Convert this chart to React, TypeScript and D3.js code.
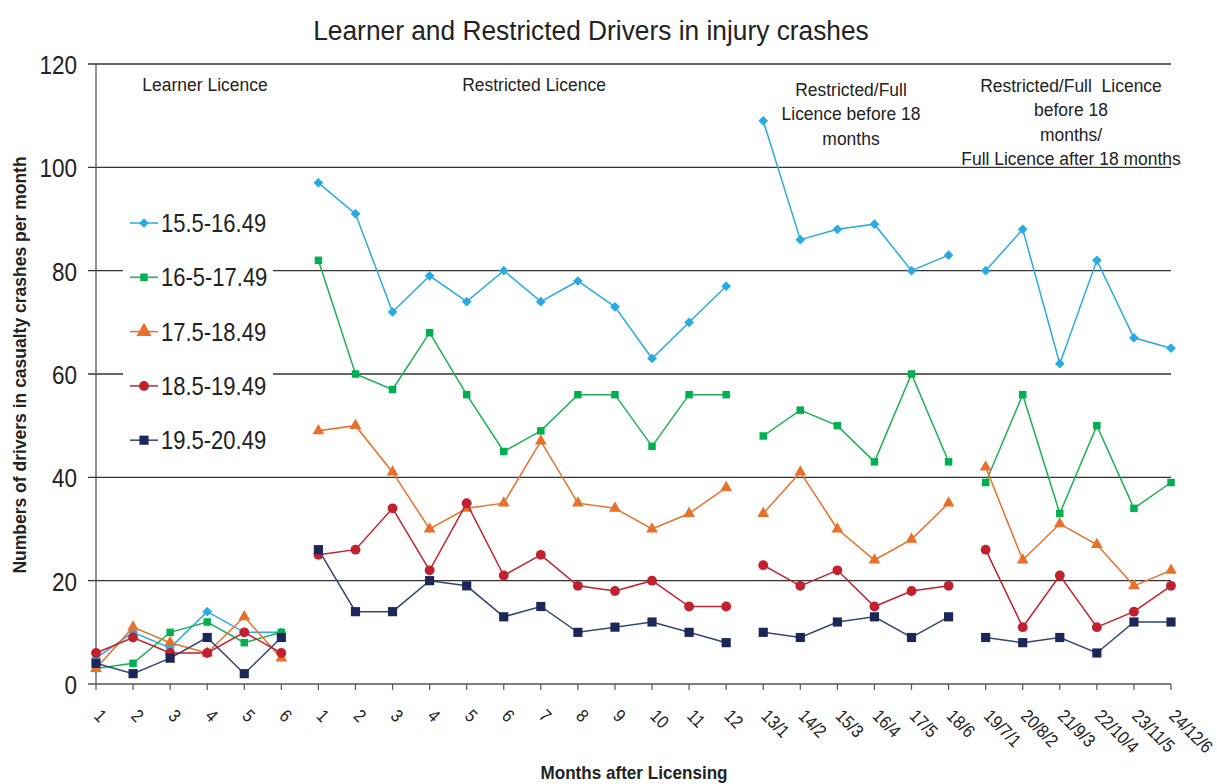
import React, { useEffect, useRef } from "react"
import * as d3 from "d3"

// x categories (months after licensing), grouped by licence stage
const categories = [
    "1", "2", "3", "4", "5", "6",
    "1", "2", "3", "4", "5", "6", "7", "8", "9", "10", "11", "12",
    "13/1", "14/2", "15/3", "16/4", "17/5", "18/6",
    "19/7/1", "20/8/2", "21/9/3", "22/10/4", "23/11/5", "24/12/6",
]
const groupSizes = [6, 12, 6, 6]
const groupLabels = [
    ["Learner Licence"],
    ["Restricted Licence"],
    ["Restricted/Full", "Licence before 18", "months"],
    ["Restricted/Full  Licence", "before 18", "months/", "Full Licence after 18 months"],
]

const seriesNames = ["15.5-16.49", "16-5-17.49", "17.5-18.49", "18.5-19.49", "19.5-20.49"]

const age155 = [5, 10, 7, 14, 10, 10, 97, 91, 72, 79, 74, 80, 74, 78, 73, 63, 70, 77, 109, 86, 88, 89, 80, 83, 80, 88, 62, 82, 67, 65]
const age165 = [3, 4, 10, 12, 8, 10, 82, 60, 57, 68, 56, 45, 49, 56, 56, 46, 56, 56, 48, 53, 50, 43, 60, 43, 39, 56, 33, 50, 34, 39]
const age175 = [3, 11, 8, 6, 13, 5, 49, 50, 41, 30, 34, 35, 47, 35, 34, 30, 33, 38, 33, 41, 30, 24, 28, 35, 42, 24, 31, 27, 19, 22]
const age185 = [6, 9, 6, 6, 10, 6, 25, 26, 34, 22, 35, 21, 25, 19, 18, 20, 15, 15, 23, 19, 22, 15, 18, 19, 26, 11, 21, 11, 14, 19]
const age195 = [4, 2, 5, 9, 2, 9, 26, 14, 14, 20, 19, 13, 15, 10, 11, 12, 10, 8, 10, 9, 12, 13, 9, 13, 9, 8, 9, 6, 12, 12]

const yTicks = [0, 20, 40, 60, 80, 100, 120]

// no Arial Narrow here, so Liberation Sans squeezed horizontally
const sans = "'Liberation Sans', Arial, sans-serif"

const styles = [
    { marker: "#29ABE2", line: "#29ABE2", symbol: d3.symbolDiamond2, size: 60 },
    { marker: "#00B050", line: "#1DB054", symbol: d3.symbolSquare, size: 56 },
    { marker: "#E8702A", line: "#E8702A", symbol: d3.symbolTriangle, size: 60 },
    { marker: "#C1212F", line: "#C1212F", symbol: d3.symbolCircle, size: 76 },
    { marker: "#1C2659", line: "#34466F", symbol: d3.symbolSquare, size: 84 },
]

export default function App() {
    const ref = useRef<SVGSVGElement>(null)

    useEffect(() => {
        const svg = d3.select(ref.current)
        svg.selectAll("*").remove()
        const width = 1217
        const height = 784
        const left = 96
        const right = 1171
        const top = 64
        const bottom = 684

        const idx = d3.range(categories.length)
        const x = d3.scalePoint<number>().domain(idx).range([left, right])
        const y = d3.scaleLinear().domain([0, 120]).range([bottom, top])

        svg.attr("width", width).attr("height", height)
        svg.append("rect").attr("width", width).attr("height", height).attr("fill", "#fff")

        const squeezed = (px: number, py: number, size: number, sx: number, anchor = "start") =>
            svg.append("text")
                .attr("transform", `translate(${px},${py}) scale(${sx},1)`)
                .attr("text-anchor", anchor)
                .style("font-family", sans).style("font-size", size + "px")
                .attr("fill", "#222")

        // title
        squeezed(591, 40, 28, 0.94, "middle").text("Learner and Restricted Drivers in injury crashes")

        // gridlines + y ticks
        svg.append("g").selectAll("line").data(yTicks.filter(d => d > 0)).enter()
            .append("line")
            .attr("x1", left - 8).attr("x2", right)
            .attr("y1", d => y(d)).attr("y2", d => y(d))
            .attr("stroke", "#333").attr("stroke-width", 1.3)

        yTicks.forEach(t => {
            squeezed(77, y(t) + 10, 25, 0.9, "end").text(t)
        })

        // axes
        svg.append("line")
            .attr("x1", left).attr("x2", left).attr("y1", top).attr("y2", bottom)
            .attr("stroke", "#555").attr("stroke-width", 1.3)
        svg.append("line")
            .attr("x1", left - 8).attr("x2", right).attr("y1", bottom).attr("y2", bottom)
            .attr("stroke", "#555").attr("stroke-width", 1.3)
        svg.append("g").selectAll("line").data(idx).enter()
            .append("line")
            .attr("x1", d => x(d)!).attr("x2", d => x(d)!)
            .attr("y1", bottom).attr("y2", bottom + 6)
            .attr("stroke", "#555").attr("stroke-width", 1.2)

        svg.append("g").selectAll("text").data(idx).enter()
            .append("text")
            .attr("transform", d => `translate(${x(d)! - 3},${bottom + 33}) rotate(45) scale(0.88,1)`)
            .style("font-family", sans).style("font-size", "18px")
            .attr("fill", "#222")
            .text(d => categories[d])

        // axis titles
        svg.append("text")
            .attr("transform", `translate(26,365) rotate(-90)`)
            .attr("text-anchor", "middle")
            .style("font-family", sans)
            .style("font-size", "17.5px").style("font-weight", "bold")
            .attr("fill", "#222")
            .text("Numbers of drivers in casualty crashes per month")
        squeezed(634, 779, 18, 0.95, "middle")
            .style("font-weight", "bold")
            .text("Months after Licensing")

        // group annotations
        const starts = groupSizes.map((s, i) => d3.sum(groupSizes.slice(0, i)))
        const labelCenters = [205, 534, 851, 1071]
        const labelTops = [91, 91, 96, 92]
        groupLabels.forEach((lines, g) => {
            const t = squeezed(labelCenters[g], 0, 19, 0.92, "middle").style("white-space", "pre")
            lines.forEach((ln, i) => {
                t.append("tspan").attr("x", 0).attr("y", labelTops[g] + i * 24.5).text(ln)
            })
        })

        // series, one path per licence stage so the gaps stay open
        const all = [age155, age165, age175, age185, age195]
        all.forEach((vals, s) => {
            const st = styles[s]
            const gs = svg.append("g")
            starts.forEach((st0, g) => {
                const seg = d3.range(st0, st0 + groupSizes[g])
                gs.append("path")
                    .attr("d", d3.line<number>().x(i => x(i)!).y(i => y(vals[i]))(seg))
                    .attr("fill", "none")
                    .attr("stroke", st.line)
                    .attr("stroke-width", 1.5)
            })
            gs.selectAll("path.m").data(idx).enter()
                .append("path")
                .attr("class", "m")
                .attr("transform", i => `translate(${x(i)},${y(vals[i])})`)
                .attr("d", d3.symbol().type(st.symbol).size(st.size)())
                .attr("fill", st.marker)
        })

        // legend
        const lg = svg.append("g")
        lg.append("rect").attr("x", 123).attr("y", 200).attr("width", 150).attr("height", 262).attr("fill", "#fff")
        seriesNames.forEach((name, s) => {
            const st = styles[s]
            const ly = 223 + s * 54.3
            lg.append("line")
                .attr("x1", 130).attr("x2", 158).attr("y1", ly).attr("y2", ly)
                .attr("stroke", st.line).attr("stroke-width", 1.5)
            lg.append("path")
                .attr("transform", `translate(144,${ly})`)
                .attr("d", d3.symbol().type(st.symbol).size(s === 2 ? 100 : st.size)())
                .attr("fill", st.marker)
            squeezed(161, ly + 9, 25, 0.88).text(name)
        })
    }, [])

    return <svg ref={ref} style={{ position: "absolute", left: 0, top: 0 }} />
}
